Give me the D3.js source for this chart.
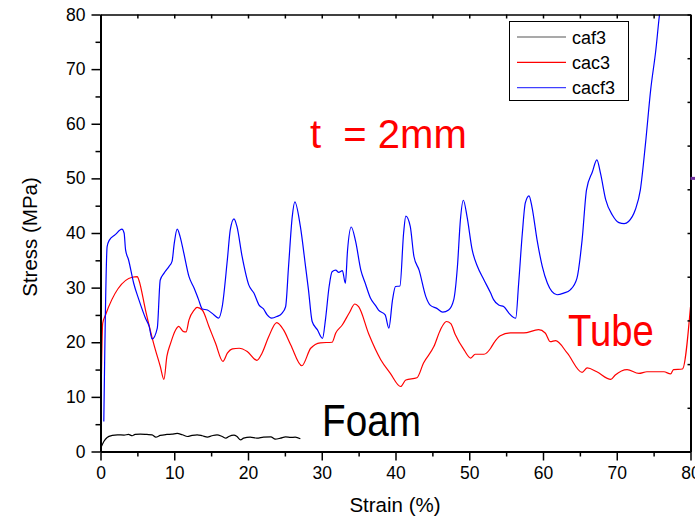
<!DOCTYPE html>
<html><head><meta charset="utf-8">
<script src="https://cdn.jsdelivr.net/npm/d3@7"></script>
<style>
html,body{margin:0;padding:0;background:#fff;}
svg{display:block;font-family:"Liberation Sans",Arial,sans-serif;}
</style></head>
<body><svg id="c" width="695" height="521"></svg>
<script>
// ---- data (strain %, stress MPa) ----
const seriesNames = ["caf3", "cac3", "cacf3"];
const seriesColors = ["#000000", "#ff0000", "#0000ff"];
const legendColors = ["#555555", "#ff0000", "#4040ff"];

const caf3X = [0, 0.45, 0.9, 1.6, 2.3, 3.2, 3.8, 4.3, 4.7, 5.4, 6.3, 7.0, 7.5, 8.1, 9.0, 9.7, 10.4, 11.1, 11.8, 12.4, 13.1, 13.8, 14.5, 15.1, 15.8, 16.5, 17.0, 17.4, 18.1, 18.5, 19.0, 19.4, 20.3, 21.2, 22.1, 23.1, 23.7, 24.4, 25.1, 25.8, 26.4, 27.1];
const caf3Y = [0.5, 1.84, 2.57, 2.94, 3.06, 3.0, 3.12, 2.88, 3.12, 3.18, 3.12, 3.06, 2.63, 2.94, 3.12, 3.18, 3.3, 3.06, 2.75, 2.94, 3.06, 2.88, 2.63, 2.88, 3.06, 2.75, 2.44, 2.75, 3.0, 2.75, 2.14, 2.44, 2.63, 2.44, 2.63, 2.69, 2.26, 2.44, 2.69, 2.57, 2.63, 2.32];

const cac3X = [0, 0.3, 0.68, 4.3, 5.0, 5.2, 6.1, 7.2, 8.1, 8.6, 9.0, 9.5, 10.2, 10.6, 11.2, 11.6, 12.0, 12.7, 13.1, 13.8, 14.7, 15.6, 16.6, 17.2, 17.9, 18.8, 19.9, 21.2, 21.9, 22.8, 23.9, 24.8, 25.8, 27.3, 28.5, 29.8, 31.4, 31.9, 32.8, 33.7, 34.5, 35.0, 36.4, 38.0, 39.3, 40.7, 41.4, 42.9, 43.8, 45.2, 46.1, 46.9, 47.5, 48.1, 49.3, 50.2, 50.8, 52.0, 52.9, 53.3, 54.2, 55.6, 57.4, 59.4, 60.3, 61.0, 61.7, 63.3, 65.3, 66.0, 67.3, 69.2, 69.8, 71.4, 73.0, 74.1, 76.4, 77.3, 77.7, 78.9, 80.0];
const cac3Y = [2.0, 23.5, 25.0, 31.9, 32.0, 31.4, 25.9, 19.8, 15.6, 13.2, 17.4, 19.8, 22.3, 22.9, 22.0, 21.9, 24.1, 25.9, 26.4, 25.9, 22.9, 19.8, 16.5, 18.0, 18.8, 18.9, 18.3, 16.7, 18.0, 21.0, 23.6, 22.3, 19.5, 15.7, 18.9, 19.9, 20.0, 21.7, 23.2, 25.3, 27.0, 26.5, 21.4, 16.8, 14.3, 11.9, 13.1, 13.5, 16.2, 19.2, 22.3, 23.8, 23.4, 21.4, 18.6, 17.1, 17.8, 17.8, 18.9, 19.8, 21.2, 21.7, 21.7, 22.3, 21.7, 20.1, 20.3, 18.0, 14.5, 15.3, 14.6, 13.2, 14.0, 15.0, 14.3, 14.6, 14.6, 14.2, 15.0, 15.1, 26.5];

const cacf3X = [0.45, 0.9, 1.2, 2.0, 2.9, 3.2, 3.4, 3.8, 4.5, 5.2, 6.1, 6.6, 7.0, 7.7, 8.1, 8.6, 9.3, 9.7, 10.0, 10.4, 10.8, 11.3, 12.0, 12.7, 13.3, 13.8, 14.5, 15.4, 16.0, 16.5, 17.2, 17.6, 18.1, 18.5, 19.2, 20.1, 20.8, 21.5, 22.1, 22.6, 23.2, 23.9, 24.6, 25.1, 25.5, 26.0, 26.35, 27.1, 27.8, 28.2, 28.7, 29.4, 30.1, 30.5, 31.0, 31.4, 31.9, 32.3, 32.8, 33.2, 33.5, 34.0, 34.6, 35.3, 35.9, 36.6, 37.3, 37.7, 38.6, 39.1, 39.6, 40.0, 40.6, 41.1, 41.4, 42.0, 42.5, 43.2, 44.1, 44.7, 45.6, 46.4, 47.2, 47.9, 48.4, 48.8, 49.2, 49.7, 50.4, 51.1, 52.0, 52.9, 53.3, 54.0, 54.7, 55.4, 56.3, 56.7, 57.2, 57.6, 58.1, 58.5, 59.2, 59.9, 60.6, 61.2, 61.9, 62.8, 63.7, 64.6, 65.3, 65.9, 66.7, 67.3, 67.8, 68.5, 69.4, 70.3, 71.0, 71.6, 72.5, 73.2, 73.9, 74.6, 75.3, 75.8, 76.0];
const cacf3Y = [5.5, 37.5, 38.7, 39.7, 40.7, 40.0, 36.9, 35.1, 30.8, 27.8, 24.4, 22.9, 20.6, 22.6, 31.4, 32.6, 33.9, 34.8, 38.1, 40.7, 39.3, 36.3, 32.0, 29.9, 27.8, 26.1, 25.9, 25.0, 24.4, 26.5, 35.1, 40.6, 42.6, 41.2, 35.7, 30.5, 29.0, 26.8, 26.1, 25.0, 24.4, 24.7, 25.3, 26.5, 33.9, 43.0, 45.7, 41.2, 33.9, 29.6, 23.8, 22.3, 20.7, 24.1, 30.2, 32.9, 33.2, 32.8, 33.1, 30.8, 36.9, 41.1, 38.4, 33.2, 30.8, 28.1, 26.7, 25.9, 25.0, 22.6, 27.8, 30.2, 30.3, 40.0, 43.1, 41.2, 35.7, 33.2, 28.4, 26.8, 26.2, 25.5, 25.9, 27.8, 33.9, 42.4, 46.0, 43.0, 36.9, 33.9, 31.4, 29.0, 27.8, 26.8, 26.5, 25.3, 24.4, 30.8, 40.0, 45.5, 46.8, 44.8, 38.7, 33.9, 30.8, 29.3, 28.7, 29.0, 29.6, 31.7, 38.7, 47.9, 51.2, 53.4, 50.9, 46.1, 43.3, 41.9, 41.7, 42.1, 44.2, 47.9, 56.4, 66.2, 73.5, 80.0, 82.0];

const xTicks = [0, 10, 20, 30, 40, 50, 60, 70, 80];
const yTicks = [0, 10, 20, 30, 40, 50, 60, 70, 80];
const xMinor = [5, 15, 25, 35, 45, 55, 65, 75];
const yMinor = [5, 15, 25, 35, 45, 55, 65, 75];
const rightTicks = [0, 10, 20, 30, 40, 50, 60, 70, 80, 90, 100];

(function () {
const svg = d3.select("#c");
const L = 100.5, R = 690.5, T = 14.5, B = 451.5;
const x = d3.scaleLinear().domain([0, 80]).range([L, R]);
const y = d3.scaleLinear().domain([0, 80]).range([B, T]);
const yR = d3.scaleLinear().domain([0, 100]).range([B, T]);

svg.append("defs").append("clipPath").attr("id", "clip")
  .append("rect").attr("x", L).attr("y", T).attr("width", R - L).attr("height", B - T);

// curves
const seriesX = [caf3X, cac3X, cacf3X];
const seriesY = [caf3Y, cac3Y, cacf3Y];
const line = d3.line().x(d => x(d[0])).y(d => y(d[1])).curve(d3.curveMonotoneX);
const g = svg.append("g").attr("clip-path", "url(#clip)");
seriesNames.forEach((n, i) => {
  const pts = seriesX[i].map((v, k) => [v, seriesY[i][k]]);
  g.append("path").datum(pts).attr("d", line).attr("fill", "none")
    .attr("stroke", seriesColors[i]).attr("stroke-width", 1.2);
});

function styleAxis(sel, w) {
  sel.select(".domain").attr("stroke", "#000").attr("stroke-width", w);
  sel.selectAll(".tick line").attr("stroke", "#000").attr("stroke-width", 1.5);
  sel.selectAll("text").attr("font-size", 17.5).attr("fill", "#000")
    .attr("font-family", "Liberation Sans, Arial, sans-serif");
}

// top axis (ticks inward)
const topAx = svg.append("g").attr("transform", `translate(0,${T})`)
  .call(d3.axisBottom(x).tickValues(xTicks.concat(xMinor)).tickSize(4).tickSizeOuter(0).tickFormat(""));
styleAxis(topAx, 1.5);
// right axis (ticks inward)
const rightAx = svg.append("g").attr("transform", `translate(${R},0)`)
  .call(d3.axisLeft(yR).tickValues(rightTicks).tickSize(3).tickSizeOuter(0).tickFormat(""));
styleAxis(rightAx, 2);

// bottom axis
const bMin = svg.append("g").attr("transform", `translate(0,${B})`)
  .call(d3.axisBottom(x).tickValues(xMinor).tickSize(5).tickSizeOuter(0).tickFormat(""));
styleAxis(bMin, 2);
const botAx = svg.append("g").attr("transform", `translate(0,${B})`)
  .call(d3.axisBottom(x).tickValues(xTicks).tickSize(9).tickSizeOuter(0).tickPadding(6).tickFormat(d3.format("d")));
styleAxis(botAx, 2);

// left axis
const lMin = svg.append("g").attr("transform", `translate(${L},0)`)
  .call(d3.axisLeft(y).tickValues(yMinor).tickSize(5).tickSizeOuter(0).tickFormat(""));
styleAxis(lMin, 2);
const leftAx = svg.append("g").attr("transform", `translate(${L},0)`)
  .call(d3.axisLeft(y).tickValues(yTicks).tickSize(9).tickSizeOuter(0).tickPadding(6).tickFormat(d3.format("d")));
styleAxis(leftAx, 2);

// purple marker on the right edge
svg.append("line").attr("x1", R).attr("x2", 695).attr("y1", y(50)).attr("y2", y(50))
  .attr("stroke", "#7030a0").attr("stroke-width", 3);

// axis titles
svg.append("text").attr("x", 395).attr("y", 512).attr("text-anchor", "middle")
  .attr("font-size", 20.5).text("Strain (%)");
svg.append("text").attr("transform", `translate(37,237) rotate(-90)`)
  .attr("text-anchor", "middle").attr("font-size", 20.5).text("Stress (MPa)");

// legend
const lg = svg.append("g");
lg.append("rect").attr("x", 509.5).attr("y", 21.5).attr("width", 119).attr("height", 79)
  .attr("fill", "#fff").attr("stroke", "#000").attr("stroke-width", 1);
seriesNames.forEach((n, i) => {
  const yy = 37 + i * 25.3;
  lg.append("line").attr("x1", 517).attr("x2", 566).attr("y1", yy).attr("y2", yy)
    .attr("stroke", legendColors[i]).attr("stroke-width", 1.2);
  lg.append("text").attr("x", 572).attr("y", yy + 6.5).attr("font-size", 18).text(n);
});

// annotations
svg.append("text").attr("x", 310).attr("y", 148).attr("font-size", 40).attr("fill", "#ff0000")
  .attr("xml:space", "preserve").style("white-space", "pre").text("t  = 2mm");
svg.append("text").attr("transform", "translate(568,346) scale(0.85,1)").attr("font-size", 45)
  .attr("fill", "#ff0000").text("Tube");
svg.append("text").attr("transform", "translate(322,436) scale(0.86,1)").attr("font-size", 45)
  .attr("fill", "#000").text("Foam");
})();
</script></body></html>
